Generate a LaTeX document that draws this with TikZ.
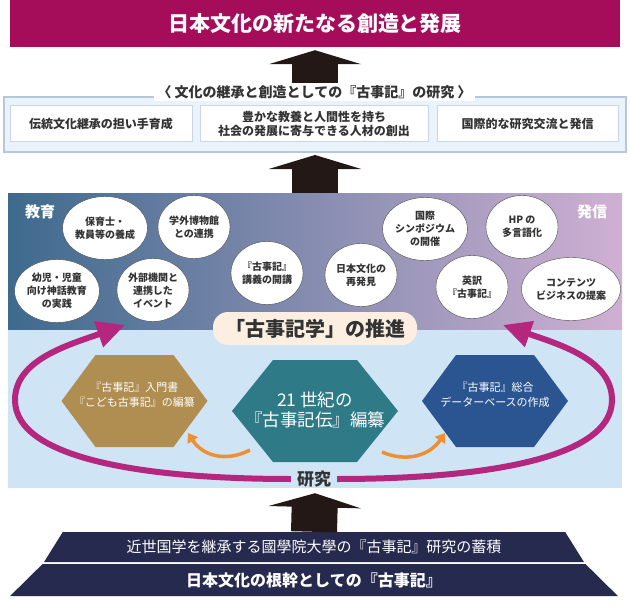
\documentclass[tikz,border=0pt]{standalone}
\usepackage{fontspec}
\setmainfont{Noto Sans CJK JP}
\usetikzlibrary{calc,shapes.geometric,arrows.meta}
\definecolor{bannerred}{HTML}{A50D5A}
\definecolor{arrowblack}{HTML}{231815}
\definecolor{outerfill}{HTML}{EAF2FB}
\definecolor{outerline}{HTML}{B7C7DB}
\definecolor{goalline}{HTML}{C9D6E6}
\definecolor{textgray}{HTML}{333333}
\definecolor{eduleft}{HTML}{3E6A8E}
\definecolor{edumid}{HTML}{8A86AC}
\definecolor{eduright}{HTML}{CFB0D3}
\definecolor{lowpanel}{HTML}{CFE4F5}
\definecolor{pillfill}{HTML}{FCEFE1}
\definecolor{goldhex}{HTML}{B08D50}
\definecolor{tealhex}{HTML}{2E7A86}
\definecolor{bluehex}{HTML}{2A5591}
\definecolor{orangearc}{HTML}{EF8F33}
\definecolor{magarc}{HTML}{B5267F}
\definecolor{navyband}{HTML}{262A4E}

\begin{document}
\begin{tikzpicture}[x=1pt,y=-1pt,
	bigarrow/.style={line width=46pt,draw=arrowblack,-{Triangle[length=14pt,width=92pt]}},
	goal/.style={draw=goalline,fill=white,line width=1pt,minimum height=36pt,align=center,text=textgray,font=\fontsize{12}{14}\selectfont\bfseries},
	bubble/.style={draw=black!70,fill=white,ellipse,minimum width=72pt,minimum height=63pt,inner sep=0pt,align=center,text=textgray,font=\fontsize{10}{13}\selectfont\bfseries},
	hextext/.style={text=white,align=center,font=\fontsize{11}{15}\selectfont},
	orangearr/.style={draw=orangearc,line width=3.5pt,-{Triangle[length=9pt,width=12pt]}},
	magarr/.style={draw=magarc,line width=6pt,-{Triangle[length=28pt,width=26pt]}},
	band/.style={fill=navyband,trapezium,trapezium angle=45,trapezium stretches=true,text=white,inner sep=0pt}]
	\useasboundingbox (0,0) rectangle (630,610);
	
	% top goal
	\node[fill=bannerred,minimum width=610pt,minimum height=47pt,text=white,font=\fontsize{21}{24}\selectfont\bfseries] (goal) at (315,23.5) {日本文化の新たなる創造と発展};
	
	% research outcomes
	\node[draw=outerline,fill=outerfill,line width=2pt,minimum width=622pt,minimum height=55pt] (outer) at (315,124.5) {};
	\node[goal,minimum width=182pt] (g1) at (101,124) {伝統文化継承の担い手育成};
	\node[goal,minimum width=228pt] (g2) at (314,124) {豊かな教養と人間性を持ち\\社会の発展に寄与できる人材の創出};
	\node[goal,minimum width=181pt] (g3) at (527.5,124) {国際的な研究交流と発信};
	\draw[bigarrow] (outer.north) -- ([yshift=-3pt]goal.south);
	\node[fill=white,inner xsep=4pt,inner ysep=2pt,text=textgray,font=\fontsize{14}{16}\selectfont\bfseries] (sub) at (314.5,92) {〈 文化の継承と創造としての『古事記』の研究 〉};
	
	% panels
	\node[minimum width=614pt,minimum height=137pt,left color=eduleft,middle color=edumid,right color=eduright] (edu) at (315,261.5) {};
	\node[fill=lowpanel,minimum width=614pt,minimum height=158pt] (low) at (315,409) {};
	\draw[bigarrow] (edu.north) -- ([yshift=-2pt]outer.south);
	\node[text=white,font=\fontsize{15}{18}\selectfont\bfseries] (edul) at (40,212) {教育};
	\node[text=white,font=\fontsize{15}{18}\selectfont\bfseries] (hasl) at (592,212) {発信};
	
	% hexagons
	\coordinate (gc) at (134.5,401);
	\coordinate (cc) at (315,411);
	\coordinate (bc) at (495,401);
	\fill[goldhex] ($(gc)+(-73,0)$) -- ++(34,-46) -- ++(78,0) -- ++(34,46) -- ++(-34,46) -- ++(-78,0) -- cycle;
	\fill[tealhex] ($(cc)+(-83,0)$) -- ++(41,-51) -- ++(84,0) -- ++(41,51) -- ++(-41,51) -- ++(-84,0) -- cycle;
	\fill[bluehex] ($(bc)+(-73,0)$) -- ++(34,-46) -- ++(78,0) -- ++(34,46) -- ++(-34,46) -- ++(-78,0) -- cycle;
	\node[hextext] (intro) at (134.5,395) {『古事記』入門書\\『こども古事記』の編纂};
	\node[hextext,font=\fontsize{17.5}{20}\selectfont] (den) at (315,410) {21 世紀の\\『古事記伝』編纂};
	\node[hextext] (db) at (495,395) {『古事記』総合\\データーベースの作成};
	
	\coordinate (o1s) at (250,450);
	\coordinate (o1e) at (188,433);
	\coordinate (o2s) at (382,452);
	\coordinate (o2e) at (445,433);
	\draw[orangearr] (o1s) .. controls (225,463) and (202,455) .. (o1e);
	\draw[orangearr] (o2s) .. controls (407,463) and (430,455) .. (o2e);
	
	% research loop
	\node[fill=lowpanel,inner xsep=6pt,inner ysep=1pt,text=textgray,font=\fontsize{17}{20}\selectfont\bfseries] (ken) at (314,479) {研究};
	\coordinate (tipL) at (125,325);
	\coordinate (tipR) at (503,325);
	\draw[magarr] (ken.west) .. controls (150,479) and (15,460) .. (15,400) .. controls (15,360) and (68,345) .. (tipL);
	\draw[magarr] (ken.east) .. controls (478,479) and (612,460) .. (612,400) .. controls (612,360) and (561,345) .. (tipR);
	
	\node[fill=pillfill,rounded corners=15pt,minimum width=204pt,minimum height=33pt,text=textgray,font=\fontsize{20}{24}\selectfont\bfseries] (kojikigaku) at (315,328.5) {「古事記学」の推進};
	
	% education
	\node[bubble] (hoiku) at (105,228) {保育士・\\教員等の養成};
	\node[bubble] (hakubutsu) at (194,227) {学外博物館\\との連携};
	\node[bubble] (kogi) at (267,273) {『古事記』\\講義の開講};
	\node[bubble] (yoji) at (57,291) {幼児・児童\\向け神話教育\\の実践};
	\node[bubble] (gaibu) at (153,290) {外部機関と\\連携した\\イベント};
	% dissemination
	\node[bubble] (saihakken) at (361,275) {日本文化の\\再発見};
	\node[bubble] (sympo) at (425,229) {国際\\シンポジウム\\の開催};
	\node[bubble] (hp) at (522,227) {HP の\\多言語化};
	\node[bubble] (eiyaku) at (472,287) {英訳\\『古事記』};
	\node[bubble] (contents) at (571,289) {コンテンツ\\ビジネスの提案};
	
	% foundation
	\node[band,minimum width=542pt,minimum height=30pt,font=\fontsize{15}{17}\selectfont] (chikuseki) at (314,547) {近世国学を継承する國學院大學の『古事記』研究の蓄積};
	\node[band,minimum width=608pt,minimum height=32pt,font=\fontsize{16}{18}\selectfont\bfseries] (konkan) at (314,580) {日本文化の根幹としての『古事記』};
	\draw[bigarrow] (chikuseki.north) -- ([yshift=-5pt]low.south);
\end{tikzpicture}
\end{document}
